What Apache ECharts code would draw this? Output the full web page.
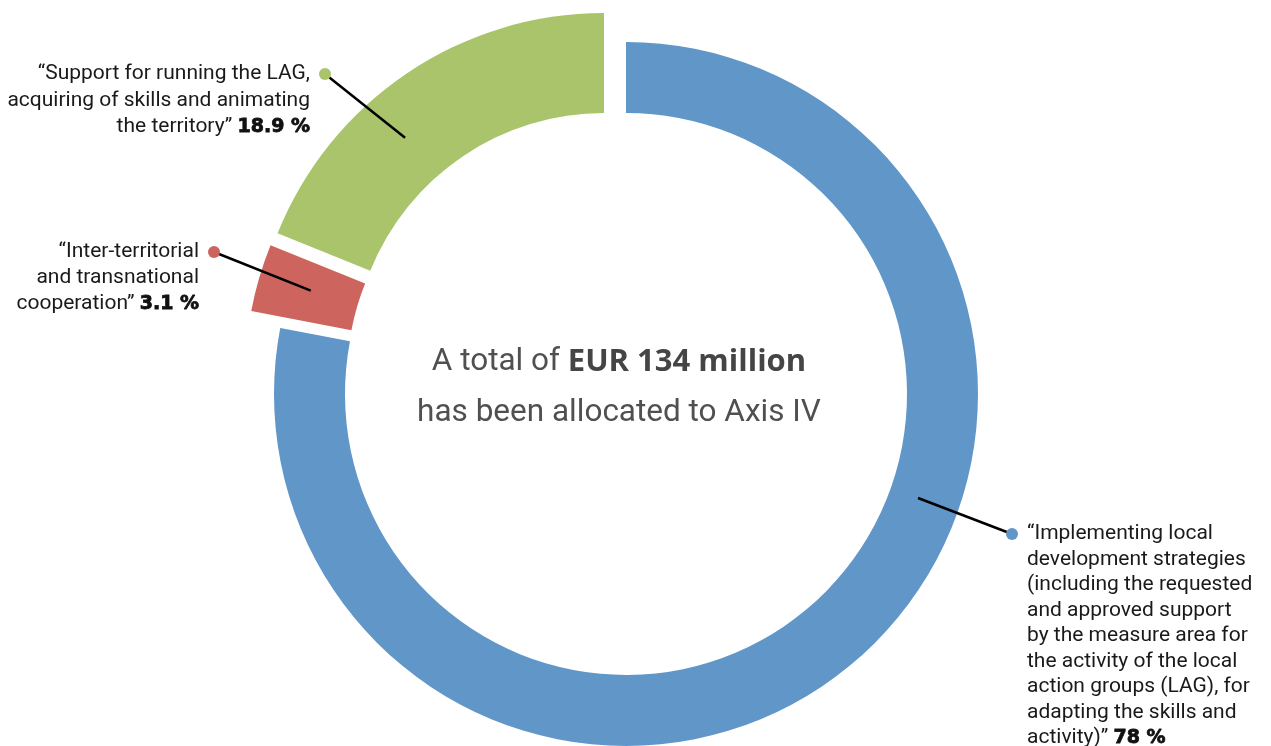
<!DOCTYPE html>
<html><head><meta charset="utf-8">
<script src="https://cdn.jsdelivr.net/npm/echarts@6/dist/echarts.min.js"></script>
<style>html,body{margin:0;padding:0;background:#fff}#c{width:1271px;height:746px}</style>
</head><body><div id="c"></div>
<script>
// ---- data ----
const categories = [
  '“Implementing local\ndevelopment strategies\n(including the requested\nand approved support\nby the measure area for\nthe activity of the local\naction groups (LAG), for\nadapting the skills and\nactivity)”',
  '“Inter-territorial\nand transnational\ncooperation”',
  '“Support for running the LAG,\nacquiring of skills and animating\nthe territory”'
];
const shares = [78, 3.1, 18.9];
const shareLabels = ['78 %', '3.1 %', '18.9 %'];
const centerLine1 = 'A total of ';
const centerBold = 'EUR 134 million';
const centerLine2 = 'has been allocated to Axis IV';

// ---- styles / layout ----
const colors = ['#6196C9', '#CD655E', '#AAC46C'];
const FONT = 'Roboto';
const layouts = [
  {center:[626,394], radius:[281,352], anchorAngle:109.6, anchorR:310, dot:[1012,534], side:'left',  lh:25.5},
  {center:[597,377], radius:[250,352], anchorAngle:286.8, anchorR:299, dot:[214,252],  side:'right', lh:25.8},
  {center:[604,365], radius:[252,352], anchorAngle:318.8, anchorR:302, dot:[325,74],   side:'right', lh:26.4}
];
const DOT = 12, GAP = 9;

function makeLabel(i){
  const lines = categories[i].split('\n');
  return lines.map((ln, k) => {
    let txt = '{t|' + ln + '}';
    if (k === lines.length - 1) txt += '{t| }{p|' + shareLabels[i] + '}';
    if (layouts[i].side === 'right') {
      txt += '{g|}' + (k === 0 ? '{dot|}' : '{sp|}');
    } else {
      txt = (k === 0 ? '{dot|}' : '{sp|}') + '{g|}' + txt;
    }
    return txt;
  }).join('\n');
}

// ring series: one per slice, each drawn with its own centre / radius
const series = layouts.map((L, si) => ({
  type: 'pie',
  z: 2,
  center: L.center,
  radius: L.radius,
  startAngle: 90,
  clockwise: true,
  silent: true,
  emphasis: {disabled: true},
  label: {show: false},
  labelLine: {show: false},
  data: shares.map((v, j) => ({
    value: v,
    name: categories[j],
    itemStyle: {color: j === si ? colors[j] : 'rgba(0,0,0,0)'}
  }))
}));

// label series on top (transparent sectors) so leader lines sit above the rings
series.push({
  type: 'pie',
  z: 5,
  center: layouts[0].center,
  radius: layouts[0].radius,
  startAngle: 90,
  clockwise: true,
  avoidLabelOverlap: false,
  silent: true,
  emphasis: {disabled: true},
  itemStyle: {color: 'rgba(0,0,0,0)'},
  labelLine: {show: true, length: 10, length2: 0, smooth: false, lineStyle: {color: '#000', width: 2.5}},
  labelLayout: function (p) {
    const L = layouts[p.dataIndex];
    const a = L.anchorAngle * Math.PI / 180;
    const sx = L.center[0] + L.anchorR * Math.sin(a);
    const sy = L.center[1] - L.anchorR * Math.cos(a);
    const d = L.dot;
    return {
      x: L.side === 'right' ? d[0] + DOT / 2 : d[0] - DOT / 2,
      y: d[1] - L.lh / 2,
      align: L.side === 'right' ? 'right' : 'left',
      verticalAlign: 'top',
      labelLinePoints: [[sx, sy], [d[0], d[1]], [d[0], d[1]]]
    };
  },
  data: shares.map((v, j) => ({
    value: v,
    name: categories[j],
    label: {
      show: true,
      position: 'outside',
      formatter: makeLabel(j),
      rich: {
        t: {fontFamily: FONT, fontSize: 21, lineHeight: layouts[j].lh, color: '#1a1a1a'},
        p: {fontFamily: 'DejaVu Sans', fontWeight: 'bold', fontSize: 19, lineHeight: layouts[j].lh, color: '#111',
            textBorderColor: '#111', textBorderWidth: 0.8},
        g: {width: GAP, height: 1},
        dot: {width: DOT, height: DOT, borderRadius: DOT / 2, backgroundColor: colors[j]},
        sp: {width: DOT, height: 1}
      }
    }
  }))
});

// centre text
series.push({
  type: 'pie',
  z: 5,
  center: layouts[0].center,
  radius: [0, 2],
  silent: true,
  emphasis: {disabled: true},
  label: {
    show: true,
    position: 'center',
    offset: [-7, -6],
    formatter: '{n|' + centerLine1 + '}{b|' + centerBold + '}\n{n|' + centerLine2 + '}',
    rich: {
      n: {fontFamily: FONT, fontSize: 31.5, lineHeight: 51, color: '#505050'},
      b: {fontFamily: 'Open Sans', fontWeight: 'bold', fontSize: 31, lineHeight: 51, color: '#454545'}
    }
  },
  labelLine: {show: false},
  data: [{value: 1, name: 'total', itemStyle: {color: 'rgba(0,0,0,0)'}}]
});

const chart = echarts.init(document.getElementById('c'));
chart.setOption({animation: false, series: series});
</script>
</body></html>
